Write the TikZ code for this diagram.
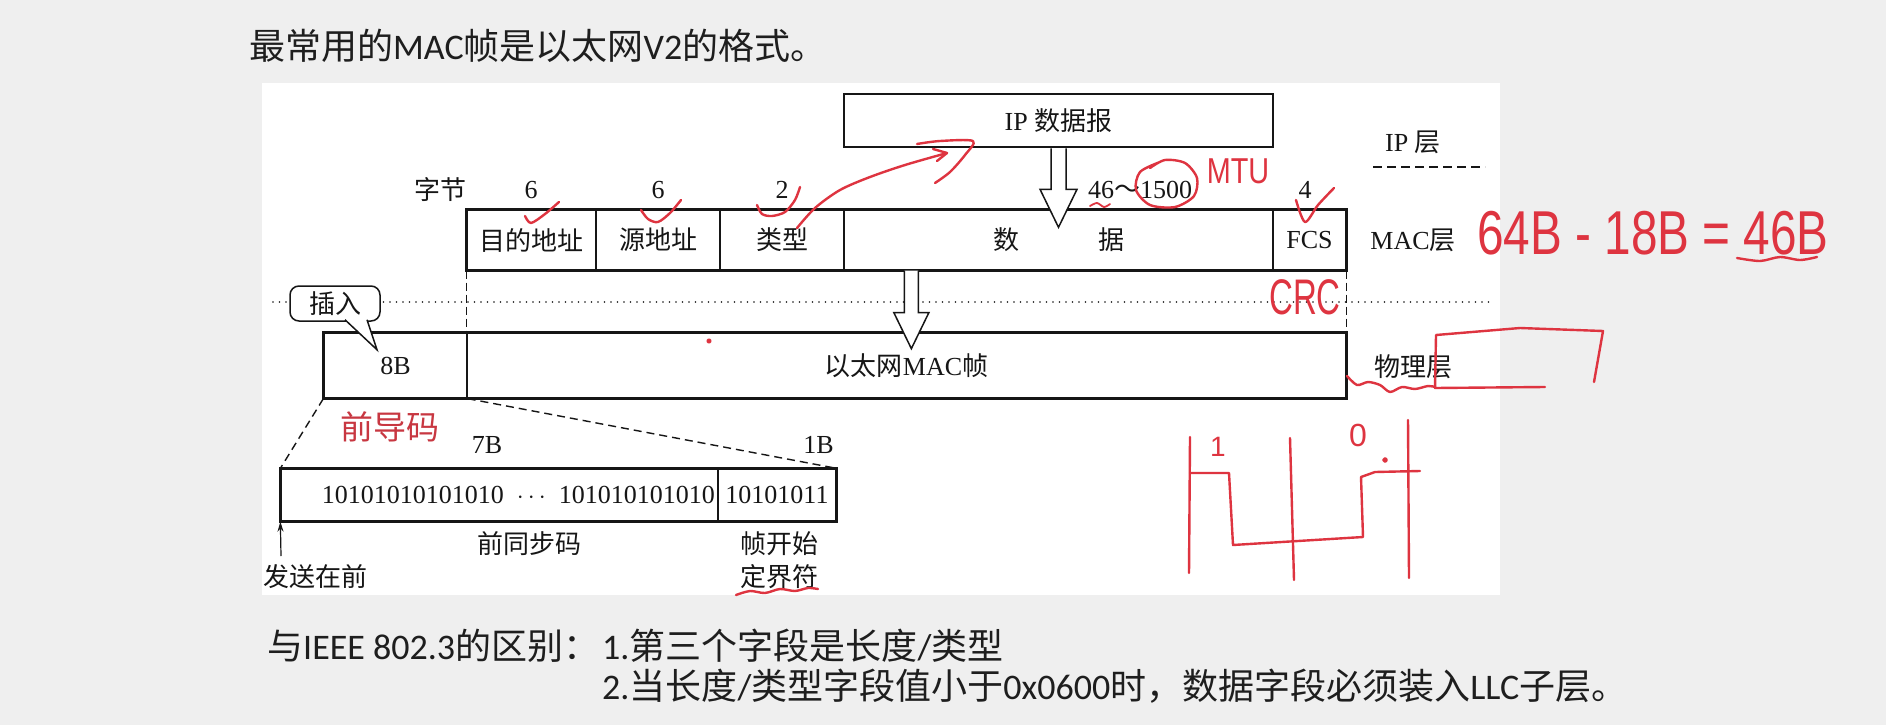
\documentclass[tikz,border=0pt]{standalone}
\usepackage{fontspec}
\setmainfont{Liberation Serif}
\newfontfamily\zh{Noto Sans CJK SC}
\newfontfamily\calib{Carlito}
\newfontfamily\hand{Liberation Sans}
\usetikzlibrary{calc,arrows.meta}
\definecolor{ink}{RGB}{22,22,22}
\definecolor{titleink}{RGB}{30,30,30}
\definecolor{pen}{RGB}{222,52,64}
\definecolor{note}{RGB}{200,55,65}
\definecolor{slide}{RGB}{239,239,239}

\begin{document}
\begin{tikzpicture}[x=1pt,y=-1pt,
  txt/.style={inner sep=0pt, text=ink, font=\fontsize{26}{28}\selectfont},
  fld/.style={draw=ink, line width=1.3pt, inner sep=0pt, txt},
  frame/.style={draw=ink, line width=2.6pt},
  blk/.style={draw=ink, line width=1.5pt, fill=white, line join=miter},
  zoomline/.style={draw=ink, line width=1.4pt, dash pattern=on 8pt off 5pt},
  slidetext/.style={anchor=west, inner sep=0pt, text=titleink, font=\fontsize{36}{40}\selectfont},
  pen/.style={draw=pen, line width=2.4pt, line cap=round, line join=round},
  handtext/.style={inner sep=0pt, text=pen}]

% slide background and white figure panel
\fill[slide] (0,0) rectangle (1886,725);
\fill[white] (262,83) rectangle (1500,595);
\useasboundingbox (0,0) rectangle (1886,725);

% heading
\node[slidetext] (title) at (249,46)
  {{\zh 最常用的}{\calib MAC}{\zh 帧是以太网}{\calib V2}{\zh 的格式。}};

% layer separator (dotted)
\draw[ink, line width=1.6pt, dash pattern=on 0pt off 6.5pt, line cap=round] (273,302) -- (1493,302);

% IP datagram
\node[fld, frame, minimum width=429, minimum height=53] (ip) at (1058.5,120.5) {IP {\zh 数据报}};

% MAC frame fields
\node[fld, minimum width=129, minimum height=60] (dst) at (531.5,240) {\zh 目的地址};
\node[fld, minimum width=124, minimum height=60] (src) at (658,240) {\zh 源地址};
\node[fld, minimum width=124, minimum height=60] (typ) at (782,240) {\zh 类型};
\node[fld, minimum width=429, minimum height=60] (data) at (1058.5,240) {\zh 数\hspace{79pt}据};
\node[fld, minimum width=73, minimum height=60] (fcs) at (1309.5,240) {FCS};
\draw[frame] (dst.north west) rectangle (fcs.south east);

% byte counts
\node[txt] (bytes) at (440,190) {\zh 字节};
\node[txt] (n1) at (531,190) {6};
\node[txt] (n2) at (658,190) {6};
\node[txt] (n3) at (782,190) {2};
\node[txt] (n4) at (1140,190) {46{\zh ～}1500};
\node[txt] (n5) at (1305,190) {4};

% layer names
\node[txt] (lip) at (1413,142) {IP {\zh 层}};
\coordinate (dl) at (1373,167);
\coordinate (dr) at (1485,167);
\draw[ink, line width=1.3pt, dash pattern=on 9pt off 5pt] (dl) -- (dr);
\node[txt] (lmac) at (1413,240) {MAC{\zh 层}};
\node[txt] (lphy) at (1413,367) {\zh 物理层};

% physical layer frame
\node[fld, minimum width=143, minimum height=65] (pre) at (395.5,365.5) {8B};
\node[fld, minimum width=879, minimum height=65] (mframe) at (906.5,365.5) {{\zh 以太网}MAC{\zh 帧}};
\draw[frame] (pre.north west) rectangle (mframe.south east);

% frame boundaries carried down
\draw[ink, line width=1.4pt, dash pattern=on 8pt off 4pt] (dst.south west) -- (mframe.north west);
\draw[ink, line width=1.4pt, dash pattern=on 8pt off 4pt] (fcs.south east) -- (mframe.north east);

% hollow block arrows between layers
\draw[blk] ($(ip.south)+(-7.5,0)$) -- ++(0,41) -- ++(-11,0) -- ($(ip.south)+(0,79)$)
  -- ++(18.5,-38) -- ++(-11,0) -- ++(0,-41);
\draw[blk] ($(data.south west)+(61,0)$) -- ++(0,42) -- ++(-10.5,0) -- ($(data.south west)+(68,78)$)
  -- ++(17.5,-36) -- ++(-10.5,0) -- ++(0,-42);

% "insert" callout
\node[fld, fill=white, rounded corners=9pt, line width=1.5pt, minimum width=90, minimum height=35] (ins) at (335,303.5) {\zh 插入};
\filldraw[fill=white, draw=ink, line width=1.5pt, line join=miter]
  ($(ins.south)+(10,-2)$) -- ($(ins.south)+(42,28)$) -- ($(ins.south)+(32,-2)$);

% preamble detail
\node[fld, minimum width=437, minimum height=52] (sync) at (499.5,495) {};
\node[fld, minimum width=118, minimum height=52] (sfd) at (777,495) {10101011};
\draw[frame] (sync.north west) rectangle (sfd.south east);
\node[txt, anchor=east] (bits) at (715,495) {10101010101010\enspace$\cdots$\enspace101010101010};
\draw[zoomline] (pre.south west) -- (sync.north west);
\draw[zoomline] (pre.south east) -- (sfd.north east);
\node[txt] (b7) at (487,445) {7B};
\node[txt, anchor=east] (b1) at (834,445) {1B};
\node[txt] (syncl) at (529,544) {\zh 前同步码};
\node[txt] (sfdl1) at (779,544) {\zh 帧开始};
\node[txt] (sfdl2) at (779,577) {\zh 定界符};
\coordinate (sendfrom) at (281,556);
\draw[ink, line width=1.2pt, -{Stealth[length=10pt,width=6pt]}] (sendfrom) -- (sync.south west);
\node[txt] (send) at (315,577) {\zh 发送在前};

% typed note
\node[inner sep=0pt, text=note, font=\fontsize{33}{36}\selectfont] (prea) at (390,427) {\zh 前导码};

% pen notes
\draw[pen] plot[smooth] coordinates {(525,216) (531,223) (545,214) (559,202)};
\draw[pen] plot[smooth] coordinates {(641,210) (648,219) (658,222) (670,213) (681,200)};
\draw[pen] plot[smooth] coordinates {(757,205) (762,214) (772,216) (785,212) (795,200) (800,187)};
\draw[pen] plot[smooth] coordinates {(1296,200) (1305,222) (1318,205) (1334,188)};
\draw[pen] plot[smooth] coordinates {(797,228) (815,208) (840,190) (870,177) (905,165) (947,153)};
\draw[pen] (933,149) -- (947,153) -- (937,161);
\draw[pen] plot[smooth] coordinates {(917,144) (940,141) (973,141) (965,155) (950,172) (935,183)};
\draw[pen] plot[smooth] coordinates {(1160,162) (1140,172) (1136,190) (1150,205) (1175,207) (1194,196) (1197,178) (1185,163) (1165,160) (1150,168)};
\draw[pen, line width=1.8pt] plot[smooth] coordinates {(1090,206) (1097,203) (1104,207) (1110,204)};
\node[handtext, font=\hand\fontsize{36}{36}\selectfont] (mtu) at (1238,171) {\scalebox{0.8}[1]{MTU}};
\node[handtext, font=\hand\fontsize{50}{50}\selectfont] (crc) at (1305,297) {\scalebox{0.66}[1]{CRC}};
\node[handtext, font=\hand\fontsize{62}{62}\selectfont] (calc) at (1653,233) {\scalebox{0.77}[1]{64B - 18B = 46B}};
\draw[pen] plot[smooth] coordinates {(1737,258) (1760,261) (1780,257) (1800,260) (1817,257)};
\draw[pen] plot[smooth] coordinates {(1347,376) (1357,385) (1368,382) (1380,385) (1390,392) (1402,387) (1415,389) (1428,386) (1435,387)};
\draw[pen] (1545,387) -- (1435,388) -- (1436,335) -- (1520,328) -- (1603,331) -- (1594,382);
\draw[pen] plot[smooth] coordinates {(736,595) (750,591) (765,593) (780,589) (795,591) (808,588) (818,589)};
\fill[pen] (709,341) circle (1.6);

% signal sketch
\draw[pen] (1190,437) -- (1189,573);
\draw[pen] (1290,438) -- (1294,580);
\draw[pen] (1408,420) -- (1409,578);
\draw[pen] (1190,473) -- (1229,473) -- (1233,545) -- (1363,537) -- (1361,477) -- (1375,472) -- (1420,471);
\node[handtext, font=\hand\fontsize{28}{28}\selectfont] (one) at (1218,447) {1};
\node[handtext, font=\hand\fontsize{32}{32}\selectfont] (zero) at (1358,435) {0};
\fill[pen] (1385,460) circle (1.8);

% differences from IEEE 802.3
\node[slidetext] (diff) at (267,646) {{\zh 与}{\calib IEEE 802.3}{\zh 的区别：}};
\node[slidetext] (diffa) at (602,646) {{\calib 1.}{\zh 第三个字段是长度}{\calib /}{\zh 类型}};
\node[slidetext] (diffb) at (602,686)
  {{\calib 2.}{\zh 当长度}{\calib /}{\zh 类型字段值小于}{\calib 0x0600}{\zh 时，数据字段必须装入}{\calib LLC}{\zh 子层。}};
\end{tikzpicture}
\end{document}
